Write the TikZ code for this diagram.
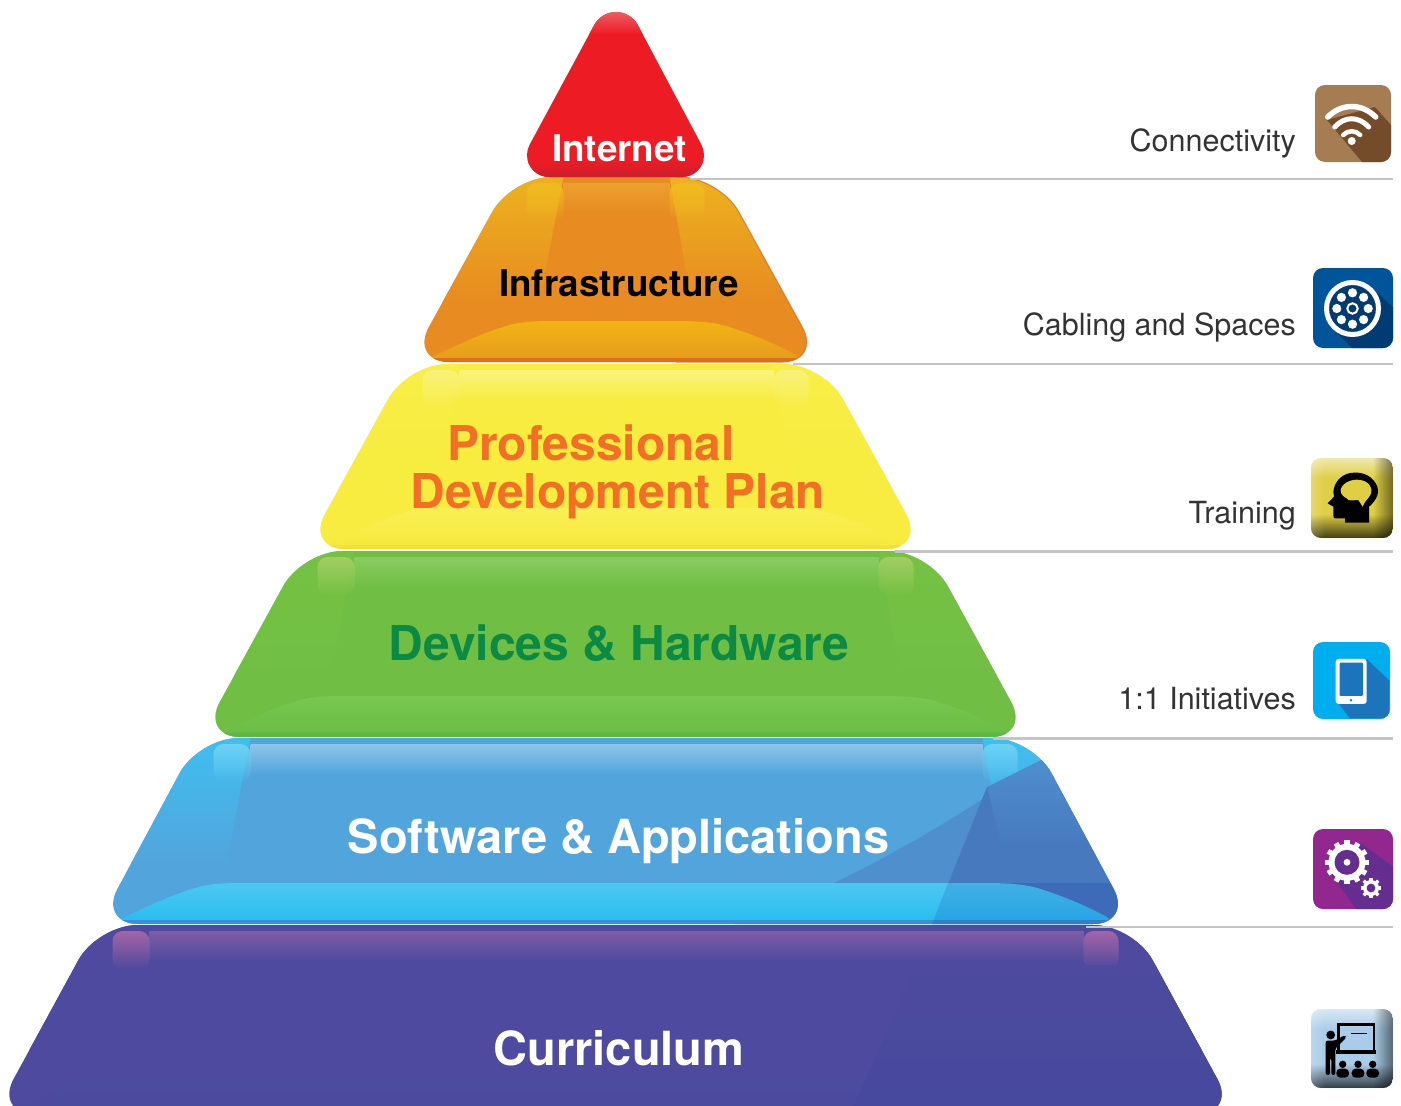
\documentclass[tikz,border=0pt]{standalone}
\usepackage{fontspec}
\setmainfont{TeX Gyre Heros}
\usetikzlibrary{calc,fadings}
\definecolor{infrabase}{HTML}{E88B20}\definecolor{infraside}{HTML}{EDB21F}\definecolor{infrastrip}{HTML}{EBA030}\definecolor{infracorner}{HTML}{F0BB20}\definecolor{infrahia}{HTML}{F2B414}\definecolor{infrahib}{HTML}{E59A1E}\definecolor{infrarim}{HTML}{D9701E}
\definecolor{profbase}{HTML}{F7EC3F}\definecolor{profside}{HTML}{F8EE45}\definecolor{profstrip}{HTML}{FBF37C}\definecolor{profcorner}{HTML}{FAF27A}\definecolor{profhia}{HTML}{F9EF55}\definecolor{profhib}{HTML}{F7E93A}\definecolor{profrim}{HTML}{EFE03A}
\definecolor{devbase}{HTML}{70BF44}\definecolor{devside}{HTML}{76C143}\definecolor{devstrip}{HTML}{8ACB60}\definecolor{devcorner}{HTML}{A3CE62}\definecolor{devhia}{HTML}{79C651}\definecolor{devhib}{HTML}{68BD45}\definecolor{devrim}{HTML}{5CB748}
\definecolor{softbase}{HTML}{52A5DC}\definecolor{softside}{HTML}{40BEF0}\definecolor{softstrip}{HTML}{8FC5EA}\definecolor{softcorner}{HTML}{6FD2F6}\definecolor{softhia}{HTML}{4CC8F0}\definecolor{softhib}{HTML}{27BCF0}\definecolor{softrim}{HTML}{3C8FD0}
\definecolor{curbase}{HTML}{4D4A9F}\definecolor{curside}{HTML}{4F4A9F}\definecolor{curstrip}{HTML}{7F5CA5}\definecolor{curcorner}{HTML}{A565A8}\definecolor{curhia}{HTML}{4C4B9F}\definecolor{curhib}{HTML}{4A4A9F}\definecolor{currim}{HTML}{4A429A}
\definecolor{rulegray}{HTML}{C4C4C4}
\definecolor{softdeep}{HTML}{4679BE}\definecolor{softmid}{HTML}{4F8FCE}\definecolor{curdeep}{HTML}{46499E}
\definecolor{wifibase}{HTML}{A67C52}\definecolor{wifishade}{HTML}{754C29}
\definecolor{cablebase}{HTML}{00549A}\definecolor{cableshade}{HTML}{003B73}
\definecolor{trainbase}{HTML}{DFCF45}
\definecolor{tabbase}{HTML}{00AEEF}\definecolor{tabshade}{HTML}{1C75BC}
\definecolor{gearbase}{HTML}{92278F}\definecolor{gearshade}{HTML}{662D91}
\definecolor{teachbase}{HTML}{A9CDE8}
\definecolor{redbase}{HTML}{ED1C24}\definecolor{redlight}{HTML}{F0606A}\definecolor{reddark}{HTML}{C81E2E}
\definecolor{proftext}{HTML}{F36F26}\definecolor{devtext}{HTML}{0C8A44}
\def\cx{615.5}
% #1 colour prefix, #2 top, #3 bottom, #4 bottom half width, #5 top half width, #6 before highlight, #7 after highlight
\newcommand{\tierbody}[7]{%
  \def\tierpath{[rounded corners=40pt] (\cx+#5,#2) -- (\cx+#4,#3) -- (\cx-#4,#3) -- (\cx-#5,#2) -- cycle}
  \fill[#1base] \tierpath;
  \begin{scope}
    \clip \tierpath;
    \shade[top color=#1side,bottom color=#1base] (\cx-#4-30,#2) -- (\cx-#5+52,#2) -- (\cx-#5+28,#2+125) -- (\cx-#4-30,#2+125) -- cycle;
    \shade[top color=#1side,bottom color=#1base] (\cx+#4+30,#2) -- (\cx+#5-50,#2) -- (\cx+#5-28,#2+125) -- (\cx+#4+30,#2+125) -- cycle;
    \fill[#1base] (\cx-#5+52,#2) rectangle (\cx+#5-50,#2+6);
    \shade[top color=#1strip,bottom color=#1base] (\cx-#5+52,#2+6) rectangle (\cx+#5-50,#2+36);
    \fill[#1corner,path fading=south,rounded corners=10pt] (\cx-#5+15,#2+6) rectangle (\cx-#5+52,#2+44);
    \fill[#1corner,path fading=south,rounded corners=10pt] (\cx+#5-50,#2+6) rectangle (\cx+#5-15,#2+44);
    #6
    \shade[top color=#1hia,bottom color=#1hib]
      (\cx-#4+24,#3-6) .. controls (\cx-#4+50,#3-18) and (\cx-#4+75,#3-30) .. (\cx-#4+100,#3-37)
      .. controls (\cx-#4+115,#3-41) and (\cx-#4+130,#3-41) .. (\cx-#4+150,#3-41)
      -- (\cx+#4-150,#3-41) .. controls (\cx+#4-125,#3-41) and (\cx+#4-110,#3-40) .. (\cx+#4-95,#3-36)
      .. controls (\cx+#4-70,#3-28) and (\cx+#4-45,#3-18) .. (\cx+#4-24,#3-6) -- (\cx+#4-24,#3) -- (\cx-#4+24,#3) -- cycle;
    \fill[#1rim] (\cx-#4,#3-4) rectangle (\cx+#4,#3);
    #7
  \end{scope}
}
\newcommand{\beveltile}[5]{% x0,y0,x1,y1,colour
  \fill[#5,rounded corners=10pt] (#1,#2) rectangle (#3,#4);
  \begin{scope}
    \clip[rounded corners=10pt] (#1,#2) rectangle (#3,#4);
    \fill[white,opacity=.55,path fading=south] (#1,#2) rectangle (#3,#2+20);
    \fill[black,opacity=.7,path fading=north] (#1,#4-24) rectangle (#3,#4);
    \fill[black,opacity=.5,path fading=west] (#3-20,#2) rectangle (#3,#4);
    \fill[white,opacity=.2,path fading=east] (#1,#2) rectangle (#1+14,#4);
  \end{scope}
}
\tikzset{
  rulestyle/.style={draw=rulegray,line width=2.5pt},
  tiertext/.style={font=\bfseries\fontsize{47}{48}\selectfont,anchor=base,inner sep=0pt,align=center},
  widetier/.style={font=\bfseries\fontsize{48}{48}\selectfont,anchor=base,inner sep=0pt,align=center},
  smalltier/.style={font=\bfseries\fontsize{36.8}{38}\selectfont,anchor=base,inner sep=0pt},
  sidelabel/.style={font=\fontsize{30.5}{32}\selectfont,anchor=base east,inner sep=0pt,text=black!80},
  icontile/.style={rounded corners=10pt},
  zoomed/.style={x=0.3333pt,y=-0.3333pt}
}
\begin{document}
\begin{tikzpicture}[x=1pt,y=-1pt]
\useasboundingbox (0,0) rectangle (1401,1106);
\begin{scope}
\clip (0,0) rectangle (1401,1106);
% ---- Curriculum
\tierbody{cur}{925}{1114}{621}{518}{}{\shade[top color=curbase,bottom color=curdeep] (917,965) -- (850,1114) -- (1240,1114) -- (1240,965) -- cycle;}
% ---- Software
\tierbody{soft}{738}{924}{517}{417}{%
  \fill[softmid] (1045,758) .. controls (960,815) and (860,880) .. (735,924) -- (1140,924) -- (1140,758) -- cycle;
  \shade[top color=softmid,bottom color=softdeep] (1045,758) -- (987,787) -- (1003,850) -- (1140,850) -- (1140,758) -- cycle;
  \fill[softdeep] (987,787) -- (932,924) -- (1140,924) -- (1140,850) -- (1003,850) -- cycle;
}{\fill[blue!60!black,opacity=.12] (948,883) -- (932,924) -- (1140,924) -- (1140,883) -- cycle;}
% ---- Devices
\tierbody{dev}{551}{737}{415}{313}{}{}
% ---- Professional
\tierbody{prof}{364}{549}{310}{208}{}{}
% ---- Infrastructure
\tierbody{infra}{177}{362}{206}{104}{}{}
\draw[infrarim,line width=1.2pt,rounded corners=40pt,opacity=.7] (\cx+60,177) -- (\cx+104,177) -- (\cx+206,362) -- (\cx+60,362);
\end{scope}
% ---- Internet
\def\redpath{(594.2,25) .. controls (598.5,17) and (606.9,12) .. (616,12) .. controls (625.1,12) and (633.5,17) .. (637.8,25) -- (701.4,144.7) .. controls (703.1,147.9) and (704,151.4) .. (704,155) .. controls (704,167.2) and (694.2,177) .. (682,177) -- (549,177) .. controls (536.8,177) and (527,167.2) .. (527,155) .. controls (527,151.4) and (527.9,147.9) .. (529.6,144.7) -- cycle}
\fill[redbase] \redpath;
\begin{scope}
  \clip \redpath;
  \shade[top color=redlight,bottom color=redbase] (580,10) rectangle (650,34);
  \shade[top color=redbase,bottom color=reddark] (520,160) rectangle (710,178);
\end{scope}
% ---- Tier labels
\node[smalltier,text=white] (internet) at (619.5,161) {Internet};
\node[smalltier,text=black] (infra) at (619,296) {Infrastructure};
\node[widetier,text=proftext] (prof) at (618,508) {Professional\hspace*{54pt}\\Development Plan};
\node[widetier,text=devtext] (dev) at (619,660) {Devices \& Hardware};
\node[tiertext,text=white] (soft) at (618.5,853) {Software \& Applications};
\node[tiertext,text=white] (cur) at (619,1065) {Curriculum};
% ---- Rules
\coordinate (ra) at (690,179); \coordinate (rb) at (1393,179);
\coordinate (rc) at (793,364); \coordinate (rd) at (1393,364);
\coordinate (re) at (895,551.5); \coordinate (rf) at (1393,551.5);
\coordinate (rg) at (993,738.5); \coordinate (rh) at (1393,738.5);
\coordinate (ri) at (1086,927); \coordinate (rj) at (1393,927);
\draw[rulestyle] (ra) -- (rb);
\draw[rulestyle] (rc) -- (rd);
\draw[rulestyle] (re) -- (rf);
\draw[rulestyle] (rg) -- (rh);
\draw[rulestyle] (ri) -- (rj);
% ---- Side labels
\node[sidelabel] (lconn) at (1296,151) {Connectivity};
\node[sidelabel] (lcab) at (1296,335) {Cabling and Spaces};
\node[sidelabel] (ltrain) at (1296,523) {Training};
\node[sidelabel] (linit) at (1296,709) {1:1 Initiatives};
% ---- Wifi icon
\fill[wifibase,icontile] (1315,85) rectangle (1391,162);
\begin{scope}
  \clip[icontile] (1315,85) rectangle (1391,162);
  \fill[wifishade] (1327,120) -- (1362,162) -- (1391,162) -- (1391,125) -- (1375,107) -- cycle;
\end{scope}
\begin{scope}[shift={(1351.7,141)}]
  \fill[white] (0,0) circle[radius=4pt];
  \draw[white,line width=5.5pt,line cap=round] (-24,-24) .. controls (-10,-38) and (10,-38) .. (24,-24);
  \draw[white,line width=5pt,line cap=round] (-17,-14) .. controls (-7,-25) and (7,-25) .. (17,-14);
  \draw[white,line width=4.5pt,line cap=round] (-8.5,-6) .. controls (-4,-11) and (4,-11) .. (8.5,-6);
\end{scope}
% ---- Cable icon
\fill[cablebase,icontile] (1313,268) rectangle (1393,348);
\begin{scope}
  \clip[icontile] (1313,268) rectangle (1393,348);
  \fill[cableshade] (1332,328) -- (1352,348) -- (1393,348) -- (1393,307) -- (1372,288) -- cycle;
\end{scope}
\begin{scope}[shift={(1352.5,308.5)}]
  \draw[white,line width=5pt,fill=cableshade] (0,0) circle[radius=26pt];
  \foreach \a in {0,45,...,315} \fill[white] (\a:15.7) circle[radius=4.6pt];
  \draw[white,line width=2pt] (0,0) circle[radius=5.2pt];
\end{scope}
% ---- Head icon
\beveltile{1311}{458}{1393}{538}{trainbase}
\begin{scope}[shift={(1290,450)},zoomed]
  \fill[black] (237,218) -- (237,170) .. controls (262,150) and (268,125) .. (262,110) .. controls (250,80) and (222,66) .. (192,68) .. controls (160,68) and (133,92) .. (130,125) -- (132,140) -- (113,160) -- (130,170) -- (130,195) .. controls (130,202) and (132,205) .. (135,205) -- (165,205) -- (165,218) -- cycle;
  \fill[trainbase] (152,120) .. controls (155,100) and (185,85) .. (210,90) .. controls (235,92) and (250,115) .. (243,130) .. controls (238,145) and (225,150) .. (218,170) -- (205,150) .. controls (190,150) and (175,155) .. (170,145) .. controls (160,140) and (150,130) .. (152,120) -- cycle;
\end{scope}
% ---- Tablet icon
\fill[tabbase,icontile] (1313,642) rectangle (1390,719);
\begin{scope}
  \clip[icontile] (1313,642) rectangle (1390,719);
  \begin{scope}[shift={(1290,450)},zoomed]
    \fill[tabshade] (137,750) -- (180,805) -- (298,805) -- (298,692) -- (230,627) -- cycle;
    \fill[white,rounded corners=3pt] (137,627) rectangle (230,762);
    \fill[tabshade,rounded corners=1pt] (149,638) rectangle (219,738);
    \fill[tabshade] (183,751) circle[radius=1.4pt];
  \end{scope}
\end{scope}
% ---- Gear icon
\fill[gearbase,icontile] (1313,829) rectangle (1393,909);
\begin{scope}
  \clip[icontile] (1313,829) rectangle (1393,909);
  \begin{scope}[shift={(1290,820)},zoomed]
    \fill[gearshade] (125,165) -- (200,268) -- (309,268) -- (309,140) -- (210,68) -- cycle;
  \end{scope}
\end{scope}
\begin{scope}[shift={(1347,862.3)}]
  \fill[white] (0,0) circle[radius=18.5pt];
  \foreach \a in {0,30,...,330} \fill[white,rotate=\a] (-2.6,-22) rectangle (2.6,-16);
  \fill[gearshade] (0,0) circle[radius=12.5pt];
  \fill[white] (0,0) circle[radius=3.4pt];
\end{scope}
\begin{scope}[shift={(1371,888)}]
  \fill[white] (0,0) circle[radius=8pt];
  \foreach \a in {0,45,...,315} \fill[white,rotate=\a] (-1.7,-10.3) rectangle (1.7,-6);
  \fill[gearshade] (0,0) circle[radius=4.4pt];
\end{scope}
% ---- Teacher icon
\beveltile{1311}{1009}{1393}{1088}{teachbase}
\begin{scope}[shift={(1290,820)},zoomed]
  \draw[black,line width=2.4pt] (146,695) -- (146,613) -- (252,613) -- (252,695);
  \fill[black] (138,690) rectangle (258,703);
  \fill[black] (183,638) rectangle (232,642);
  \fill[black] (122,645) circle[radius=4.4pt];
  \fill[black,rounded corners=2pt] (107,662) -- (135,662) -- (165,645) -- (170,652) -- (136,685) -- (136,765) -- (124,765) -- (124,715) -- (120,715) -- (120,765) -- (107,765) -- cycle;
  \foreach \p in {158,204,248}{
    \fill[black] (\p,733) circle[radius=3.7pt];
    \fill[black,rounded corners=4pt] (\p-19,773) -- (\p-19,746) -- (\p+19,746) -- (\p+19,773) -- cycle;
  }
\end{scope}
\end{tikzpicture}
\end{document}
